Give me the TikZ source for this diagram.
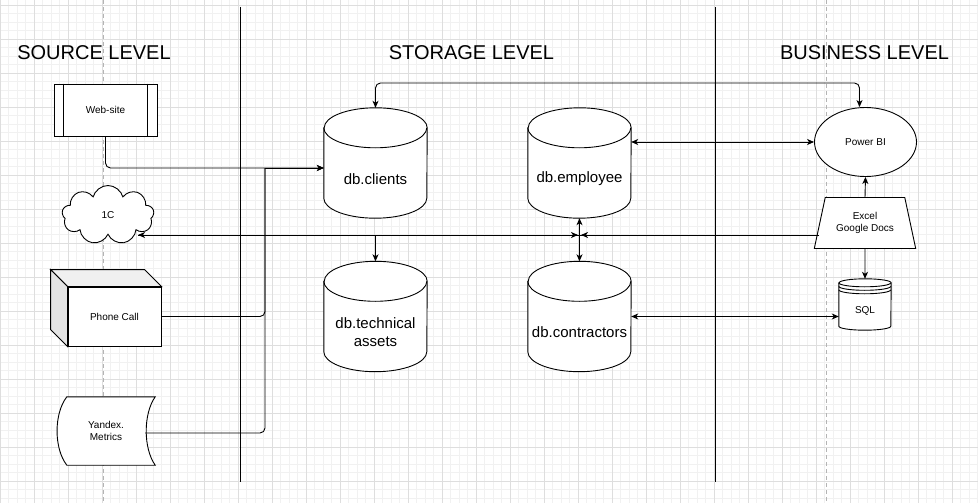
\documentclass[tikz,border=0pt]{standalone}
\usepackage{fontspec}
\setmainfont{Liberation Sans}
\usetikzlibrary{arrows.meta,shapes.geometric,shapes.symbols,calc,positioning}

\definecolor{gridmajor}{HTML}{DEDEDE}
\definecolor{gridminor}{HTML}{F1F1F1}
\definecolor{pagegray}{HTML}{B4B4B4}
\definecolor{topgray}{HTML}{F0F0F0}
\definecolor{sidegray}{HTML}{E4E4E4}

\tikzset{
  conn/.style={line width=0.9pt, draw=black},
  arr/.style={conn, -{Stealth[length=7pt,width=6pt,inset=2pt]}},
  darr/.style={conn, {Stealth[length=7pt,width=6pt,inset=2pt]}-{Stealth[length=7pt,width=6pt,inset=2pt]}},
  divider/.style={line width=1pt, draw=black},
  minorline/.style={draw=gridminor, line width=0.6pt},
  majorline/.style={draw=gridmajor, line width=0.7pt},
  pageline/.style={draw=pagegray, line width=0.7pt, dash pattern=on 4pt off 3pt},
  lvltitle/.style={font=\fontsize{20}{24}\selectfont, anchor=base, inner sep=0pt},
  smalltxt/.style={font=\fontsize{10}{12.5}\selectfont, align=center, inner sep=0pt},
  boxed/.style={smalltxt, draw, fill=white, line width=0.9pt},
  dbbox/.style={inner sep=0pt, minimum width=103pt, minimum height=110pt},
  dbtext/.style={font=\fontsize{15}{18}\selectfont, align=center, inner sep=0pt},
}

\begin{document}
\begin{tikzpicture}[x=1pt,y=-1pt]
\useasboundingbox (0,0) rectangle (978,503);
% grid
\fill[white] (0,0) rectangle (978,503);
\foreach \i in {0,...,115} \draw[minorline] (\i*8.5,0) -- (\i*8.5,503);
\foreach \j in {0,...,60} \draw[minorline] (0,\j*8.5-3.5) -- (978,\j*8.5-3.5);
\foreach \i in {0,...,28} \draw[majorline] (\i*34,0) -- (\i*34,503);
\foreach \j in {0,...,14} \draw[majorline] (0,\j*34+5) -- (978,\j*34+5);
\draw[pageline] (103,0) -- (103,503);
\draw[pageline] (826.5,0) -- (826.5,503);

% levels
\draw[divider] (240,7) -- (240,482);
\draw[divider] (715,7) -- (715,482);
\node[lvltitle] (srcT) at (94,60) {SOURCE LEVEL};
\node[lvltitle] (stoT) at (471.5,60) {STORAGE LEVEL};
\node[lvltitle] (busT) at (864.5,60) {BUSINESS LEVEL};

% sources
\node[boxed, minimum width=103pt, minimum height=52pt] (web) at (105.5,110) {Web-site};
\draw[conn] ([xshift=10pt]web.north west) -- ([xshift=10pt]web.south west);
\draw[conn] ([xshift=-10pt]web.north east) -- ([xshift=-10pt]web.south east);

\node[boxed, cloud, cloud puffs=9, aspect=1.5, minimum width=92pt, minimum height=59pt] (onec) at (108,215) {1C};

\node[boxed, minimum width=93pt, minimum height=59pt] (phone) at (114.5,316.5) {Phone Call};
\filldraw[conn, fill=topgray] (phone.north west) -- ++(-17,-17) -- ($(phone.north east)+(-17,-17)$) -- (phone.north east) -- cycle;
\filldraw[conn, fill=sidegray] (phone.north west) -- ++(-17,-17) -- ($(phone.south west)+(-17,-17)$) -- (phone.south west) -- cycle;

\node[inner sep=0pt, minimum width=98pt, minimum height=68pt] (yandex) at (106,431) {};
\filldraw[conn, fill=white] ([xshift=10pt]yandex.north west) -- (yandex.north east)
  .. controls ([xshift=-12pt,yshift=-17pt]yandex.north east) and ([xshift=-12pt,yshift=17pt]yandex.south east) .. (yandex.south east)
  -- ([xshift=10pt]yandex.south west)
  .. controls ([xshift=-3pt,yshift=17pt]yandex.south west) and ([xshift=-3pt,yshift=-17pt]yandex.north west) .. ([xshift=10pt]yandex.north west) -- cycle;
\node[smalltxt] (yandexT) at (yandex.center) {Yandex.\\Metrics};

% storage
\foreach \name/\x/\y in {cli/375.5/163, emp/579.5/163, tech/375.5/316.5, con/579.5/316.5}{
  \node[dbbox] (\name) at (\x,\y) {};
  \filldraw[conn, fill=white] ([yshift=-20pt]\name.north west) -- ([yshift=20pt]\name.south west)
    arc[start angle=180, end angle=360, x radius=51.5pt, y radius=20pt]
    -- ([yshift=-20pt]\name.north east)
    arc[start angle=0, end angle=180, x radius=51.5pt, y radius=20pt] -- cycle;
  \draw[conn] ([yshift=-20pt]\name.north west) arc[start angle=180, end angle=360, x radius=51.5pt, y radius=20pt];
}
\node[dbtext] (cliT) at ([yshift=-16pt]cli.center) {db.clients};
\node[dbtext] (empT) at ([yshift=-16pt]emp.center) {db.employee};
\node[dbtext] (techT) at ([yshift=-16pt]tech.center) {db.technical\\assets};
\node[dbtext] (conT) at ([yshift=-16pt]con.center) {db.contractors};

% business
\node[boxed, ellipse, minimum width=102pt, minimum height=69pt] (pbi) at (865.5,142) {Power BI};
\node[boxed, trapezium, trapezium left angle=70, trapezium right angle=70, trapezium stretches=true,
  minimum width=102pt, minimum height=51pt] (exl) at (865,223) {Excel\\Google Docs};

\node[inner sep=0pt, minimum width=52pt, minimum height=51pt] (sql) at (865,304.5) {};
\filldraw[conn, fill=white] ([yshift=-4pt]sql.north west) -- ([yshift=4pt]sql.south west)
  arc[start angle=180, end angle=360, x radius=26pt, y radius=4pt]
  -- ([yshift=-4pt]sql.north east)
  arc[start angle=0, end angle=180, x radius=26pt, y radius=4pt] -- cycle;
\foreach \dy in {4,7.5,11}
  \draw[conn] ([yshift=-\dy pt]sql.north west) arc[start angle=180, end angle=360, x radius=26pt, y radius=4pt];
\node[smalltxt] (sqlT) at ([yshift=-6pt]sql.center) {SQL};

% connectors
\coordinate (trunk) at (265,168);
\coordinate (topbus) at (600,83);
\coordinate (busR) at (819,235);
\coordinate (busL) at (138,235);
\coordinate (jn) at (579.5,235);

\draw[arr, rounded corners=5pt] (web.south) |- ([yshift=-5pt]cli.west);
\draw[conn, rounded corners=5pt] (phone.east) -| (trunk);
\draw[conn, rounded corners=5pt] ([xshift=-10pt,yshift=-2pt]yandex.east) -| (trunk);
\draw[arr] (trunk) -- ([yshift=-5pt]cli.west);

\draw[darr, rounded corners=5pt] (cli.north) |- (topbus) -| ([xshift=-6pt]pbi.north);
\draw[darr] (emp.east |- pbi.west) -- (pbi.west);
\draw[arr] (exl.north) -- (pbi.south);
\draw[arr] (exl.south) -- (sql.north);
\draw[darr] (con.east) -- (con.east -| sql.west);

\draw[arr] (busR) -- (busL);
\draw[arr, shorten >=1.5pt] (busL) -- (jn);
\draw[arr, shorten >=1.5pt] (busR) -- (jn);
\draw[darr] (emp.south) -- (con.north);
\draw[arr] (tech.north |- jn) -- (tech.north);
\end{tikzpicture}
\end{document}
